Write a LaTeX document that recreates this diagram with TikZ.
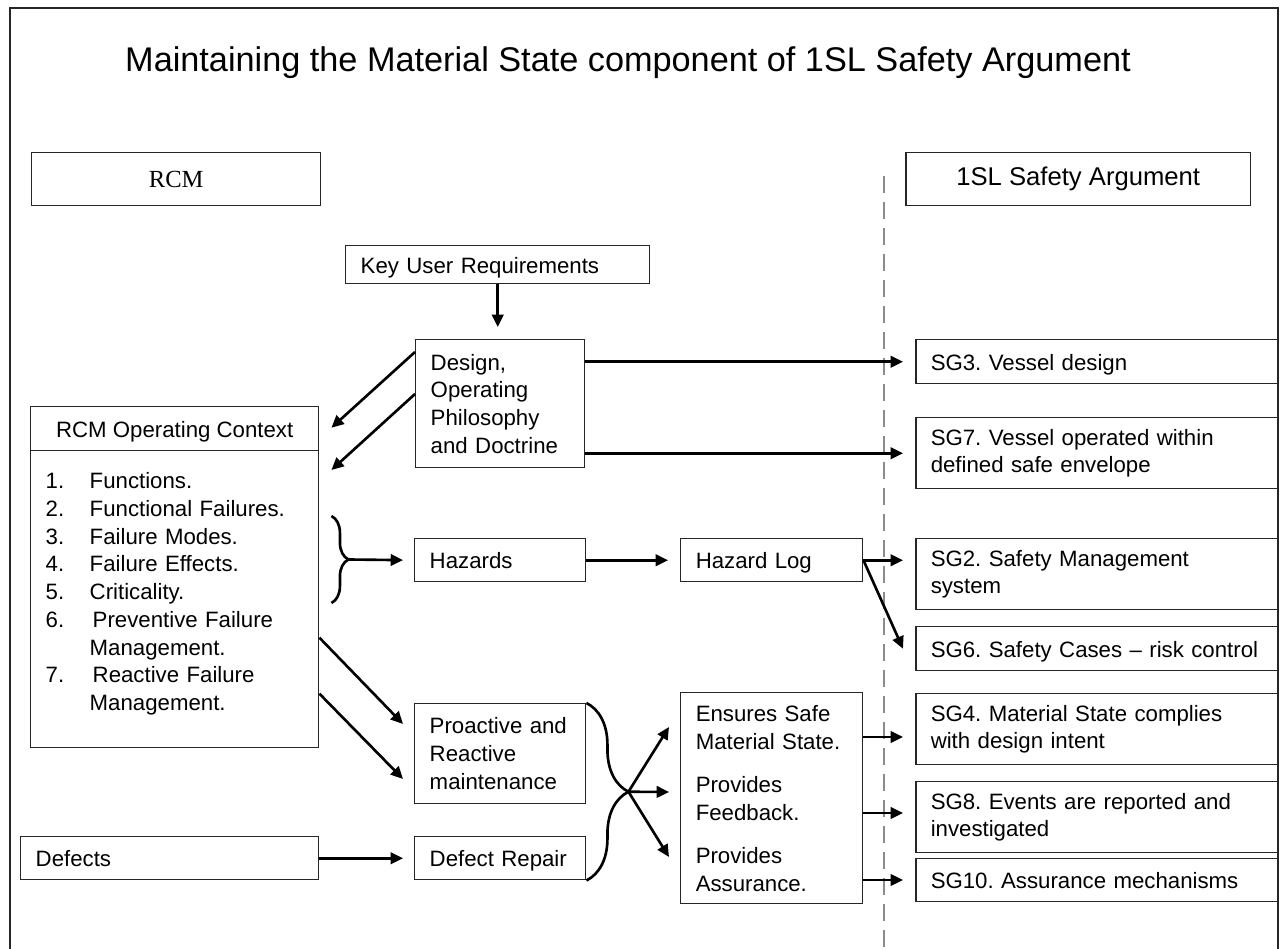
\documentclass[tikz,border=0pt]{standalone}
\usepackage{fontspec}
\setmainfont{Liberation Sans}
\newfontfamily\rcmfont{Liberation Serif}
\usetikzlibrary{arrows.meta,calc,positioning,decorations.pathreplacing}
\frenchspacing

\tikzset{
  box/.style={draw=black!85, line width=0.85pt, anchor=north west, inner xsep=0.3cm, inner ysep=0pt,
    align=left, font=\fontsize{12.65}{15.8}\selectfont},
  oneline/.style={text height=11.5pt, text depth=2pt},
  arr/.style={-{Triangle[length=7pt,width=6.5pt]}, line width=1.5pt},
  curly/.style={decorate, decoration={brace, amplitude=#1}, line width=1.5pt},
}

\begin{document}
\begin{tikzpicture}[x=0.02cm, y=-0.02cm]
\useasboundingbox (0,0) rectangle (1282,949);
% frame and divider
\draw[line width=0.85pt, black!85] (10,949) -- (10,8) -- (1278,8) -- (1278,949);
\draw[black!45, line width=1.2pt, dash pattern=on 0.34cm off 0.18cm] (884,176) -- (884,949);
\node (title) at (628,63) {\fontsize{19.5}{23}\selectfont Maintaining the Material State component of 1SL Safety Argument};

% column heads
\node[box, align=center, inner xsep=0pt, minimum width=5.78cm, minimum height=1.06cm,
  font=\rcmfont\fontsize{14}{17}\selectfont] (rcm) at (31,152) {RCM};
\node[box, align=center, inner xsep=0pt, minimum width=6.9cm, minimum height=1.06cm,
  font=\fontsize{14.6}{17}\selectfont] (slsa) at (905,152) {1SL Safety Argument};

% RCM side
\node[box, oneline, text width=5.48cm, minimum height=0.76cm] (kur) at (345,245) {Key User Requirements};
\node[box, text width=2.78cm, minimum height=2.56cm] (design) at (415,339)
  {Design,\\Operating\\Philosophy\\and Doctrine};
\node[box, oneline, align=center, inner xsep=0pt, minimum width=5.76cm, minimum height=0.88cm] (ctxhead) at (30,406)
  {RCM Operating Context};
\node[box, text width=5.16cm, minimum height=5.94cm] (ctxlist) at (30,450)
  {\makebox[0.88cm][l]{1.}Functions.\\
   \makebox[0.88cm][l]{2.}Functional Failures.\\
   \makebox[0.88cm][l]{3.}Failure Modes.\\
   \makebox[0.88cm][l]{4.}Failure Effects.\\
   \makebox[0.88cm][l]{5.}Criticality.\\
   \makebox[0.94cm][l]{6.}Preventive Failure\\
   \hspace*{0.88cm}Management.\\
   \makebox[0.94cm][l]{7.}Reactive Failure\\
   \hspace*{0.88cm}Management.\\[-7.2pt]\mbox{}};
\node[box, oneline, text width=2.82cm, minimum height=0.86cm] (hazards) at (414,538) {Hazards};
\node[box, oneline, text width=3.04cm, minimum height=0.86cm] (hazlog) at (680,538) {Hazard Log};
\node[box, text width=2.82cm, minimum height=2.0cm] (proact) at (414,703)
  {Proactive and\\Reactive\\maintenance};
\node[box, oneline, text width=2.82cm, minimum height=0.86cm] (repair) at (414,836) {Defect Repair};
\node[box, oneline, text width=5.36cm, minimum height=0.86cm] (defects) at (20,836) {Defects};
\node[box, text width=3.04cm, minimum height=4.22cm] (ensures) at (680,692)
  {Ensures Safe\\Material State.\\[8.8pt]Provides\\Feedback.\\[8.8pt]Provides\\Assurance.};

% safety goals
\node[box, oneline, text width=6.66cm, minimum height=0.88cm] (sg3) at (915,339) {SG3. Vessel design};
\node[box, text width=6.66cm, minimum height=1.42cm] (sg7) at (915,417)
  {SG7. Vessel operated within\\defined safe envelope};
\node[box, text width=6.66cm, minimum height=1.42cm] (sg2) at (915,538)
  {SG2. Safety Management\\system};
\node[box, oneline, text width=6.66cm, minimum height=0.88cm] (sg6) at (915,626) {SG6. Safety Cases – risk control};
\node[box, text width=6.66cm, minimum height=1.42cm] (sg4) at (915,693)
  {SG4. Material State complies\\with design intent};
\node[box, text width=6.66cm, minimum height=1.42cm] (sg8) at (915,781)
  {SG8. Events are reported and\\investigated};
\node[box, oneline, text width=6.66cm, minimum height=0.86cm] (sg10) at (915,858) {SG10. Assurance mechanisms};

% connectors
\draw[arr, shorten >=0.24cm] (kur.south) -- (kur.south |- design.north);
\draw[arr] (design.east |- sg3.west) -- ($(sg3.west)+(-12,0)$);
\draw[arr] (design.east |- sg7.west) -- ($(sg7.west)+(-12,0)$);
\draw[arr] ($(design.north west)+(0,13)$) -- ($(ctxhead.east)+(12,-1)$);
\draw[arr] ($(design.north west)+(0,55)$) -- ($(ctxlist.north east)+(12,20)$);

\draw[curly=0.34cm] ($(ctxlist.north east)+(12,66)$) -- ($(ctxlist.north east)+(12,153)$);
\coordinate (b1tip) at ($(ctxlist.north east)+(29,109.5)$);
\draw[arr, shorten >=0.22cm] (b1tip) -- (hazards.west);
\draw[arr, shorten >=0.24cm] (hazards) -- (hazlog);
\draw[arr] (hazlog.east) -- ($(hazlog.east -| sg2.west)+(-12,0)$);
\draw[arr] (hazlog.east) -- ($(sg6.west)+(-12,0)$);

\draw[arr] ($(ctxlist.east)+(0,38.5)$) -- ($(proact.north west)+(-11,21)$);
\draw[arr] ($(ctxlist.east)+(0,94.5)$) -- ($(proact.north west)+(-11,76)$);
\draw[arr, shorten >=0.22cm] (defects) -- (repair);

\draw[curly=0.84cm] (proact.north east) -- (repair.south east);
\coordinate (b2tip) at ($(proact.north east)!0.5!(repair.south east)+(42,0)$);
\draw[arr] (b2tip) -- ($(ensures.north west)+(-11,35)$);
\draw[arr] (b2tip) -- ($(ensures.north west)+(-11,100)$);
\draw[arr] (b2tip) -- ($(ensures.north west)+(-11,165)$);

\draw[arr] ($(ensures.north east)+(0,45)$) -- ($(ensures.north east -| sg4.west)+(-12,45)$);
\draw[arr] ($(ensures.north east)+(0,121)$) -- ($(ensures.north east -| sg8.west)+(-12,121)$);
\draw[arr] ($(ensures.north east)+(0,188)$) -- ($(ensures.north east -| sg10.west)+(-12,188)$);
\end{tikzpicture}
\end{document}
